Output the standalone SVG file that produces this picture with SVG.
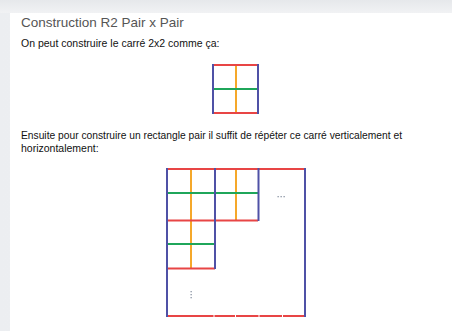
<svg xmlns="http://www.w3.org/2000/svg" width="452" height="331" viewBox="0 0 452 331">
<defs>
<linearGradient id="topg" x1="0" y1="0" x2="0" y2="1">
<stop offset="0" stop-color="#e6e8eb"/>
<stop offset="1" stop-color="#f1f2f4"/>
</linearGradient>
<linearGradient id="leftg" x1="0" y1="0" x2="1" y2="0">
<stop offset="0" stop-color="#eceef1"/>
<stop offset="1" stop-color="#f4f5f7"/>
</linearGradient>
</defs>
<style>
.t{font-family:"Liberation Sans",Arial,sans-serif}
.r{stroke:#e84545;stroke-width:2;fill:none}
.b{stroke:#4f51a6;stroke-width:2;fill:none}
.g{stroke:#1fa65a;stroke-width:2;fill:none}
.o{stroke:#f5a82a;stroke-width:2;fill:none}
.dot{fill:#8a94a3}
</style>
<rect x="0" y="0" width="452" height="331" fill="url(#leftg)"/>
<rect x="0" y="0" width="452" height="13" fill="url(#topg)"/>
<rect x="10" y="13" width="442" height="318" fill="#ffffff"/>
<text class="t" x="21" y="27" font-size="13.5" fill="#555">Construction R2 Pair x Pair</text>
<text class="t" x="21" y="46.5" font-size="10.5" fill="#111">On peut construire le carré 2x2 comme ça:</text>
<text class="t" x="21" y="138.5" font-size="10.5" fill="#111" textLength="381" lengthAdjust="spacingAndGlyphs">Ensuite pour construire un rectangle pair il suffit de répéter ce carré verticalement et</text>
<text class="t" x="21" y="151.5" font-size="10.5" fill="#111">horizontalement:</text>
<g id="small-square">
<line class="o" x1="236" y1="65" x2="236" y2="113"/>
<line class="g" x1="213" y1="89" x2="258" y2="89"/>
<line class="r" x1="213" y1="65" x2="258" y2="65"/>
<line class="r" x1="213" y1="113" x2="258" y2="113"/>
<line class="b" x1="213" y1="64" x2="213" y2="114"/>
<line class="b" x1="258" y1="64" x2="258" y2="114"/>
</g>
<g id="big-grid">
<line class="o" x1="191" y1="169" x2="191" y2="268"/>
<line class="o" x1="236" y1="169" x2="236" y2="220"/>
<line class="g" x1="167" y1="193" x2="258" y2="193"/>
<line class="g" x1="167" y1="244" x2="215" y2="244"/>
<line class="r" x1="167" y1="169" x2="305" y2="169"/>
<line class="r" x1="167" y1="220.5" x2="258" y2="220.5"/>
<line class="r" x1="167" y1="268.5" x2="215" y2="268.5"/>
<line class="r" x1="167" y1="316" x2="213.5" y2="316"/>
<line class="r" x1="214.5" y1="316" x2="235" y2="316"/>
<line class="r" x1="236" y1="316" x2="258.5" y2="316"/>
<line class="r" x1="259.5" y1="316" x2="282" y2="316"/>
<line class="r" x1="283" y1="316" x2="305" y2="316"/>
<line class="b" x1="167" y1="168" x2="167" y2="317"/>
<line class="b" x1="215" y1="168" x2="215" y2="269"/>
<line class="b" x1="258.5" y1="168" x2="258.5" y2="221"/>
<line class="b" x1="305" y1="168" x2="305" y2="317"/>
<g id="ellipsis-h">
<rect class="dot" x="277.5" y="196" width="1.3" height="1.3"/>
<rect class="dot" x="280.5" y="196" width="1.3" height="1.3"/>
<rect class="dot" x="283.5" y="196" width="1.3" height="1.3"/>
</g>
<g id="ellipsis-v">
<rect class="dot" x="190.5" y="291" width="1.3" height="1.3"/>
<rect class="dot" x="190.5" y="294" width="1.3" height="1.3"/>
<rect class="dot" x="190.5" y="297" width="1.3" height="1.3"/>
</g>
</g>
</svg>
